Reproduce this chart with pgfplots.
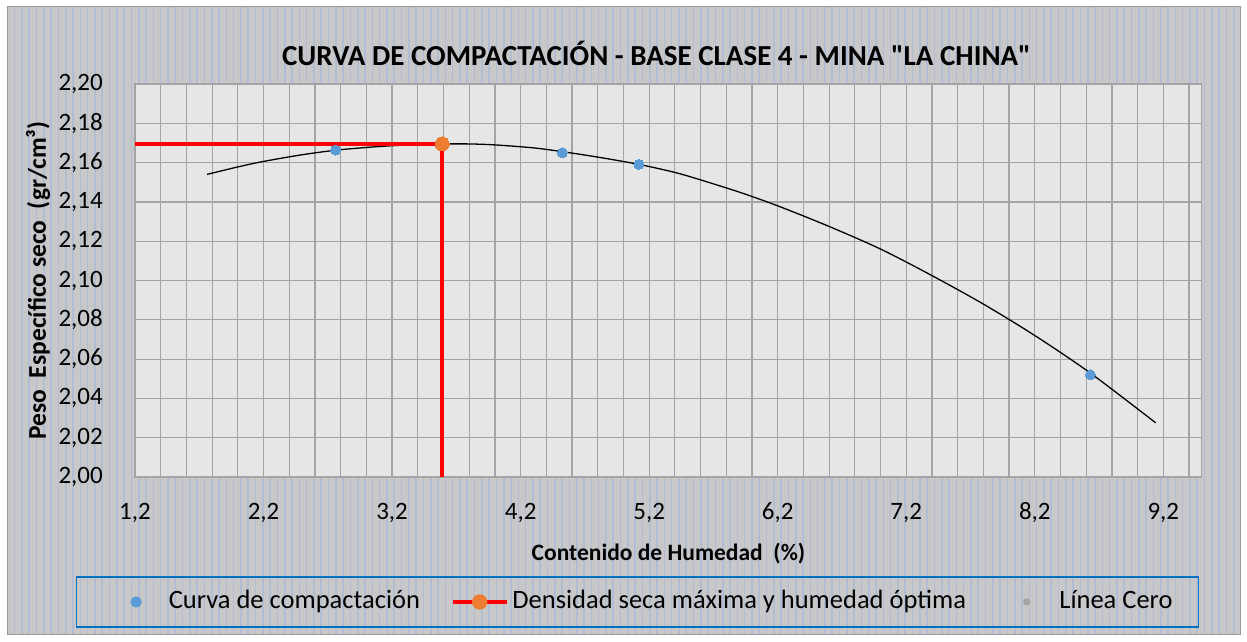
\documentclass[border=0pt]{standalone}
\usepackage{fontspec}
\setmainfont{Carlito}
\usepackage{pgfplots}
\pgfplotsset{compat=1.18}
\usetikzlibrary{patterns.meta}
\newcommand\sq{\XeTeXglyph\XeTeXcharglyph34\relax}
\definecolor{bg}{HTML}{C8C8C8}
\definecolor{stripe}{HTML}{B2BCD3}
\definecolor{plotbg}{HTML}{E6E6E6}
\definecolor{gridc}{HTML}{A4A4A4}
\definecolor{ptblue}{HTML}{5B9BD5}
\definecolor{ptorange}{HTML}{ED7D31}
\definecolor{legblue}{HTML}{0070C0}
\definecolor{zerogray}{HTML}{A5A5A5}
\begin{document}
\begin{tikzpicture}[x=1pt,y=1pt]
\fill[white] (0,0) rectangle (1247,641);
\fill[bg] (7,7) rectangle (1240,634);
\fill[pattern={Lines[angle=90,distance=7.3pt,line width=1.6pt]}, pattern color=stripe] (7,7) rectangle (1240,634);
\draw[gray!80, line width=1pt] (7,7) rectangle (1240,634);
\begin{axis}[
  at={(135pt,164pt)}, anchor=south west,
  width=1067pt, height=393pt, scale only axis,
  xmin=1.2, xmax=9.5, ymin=2.0, ymax=2.2,
  axis background/.style={fill=plotbg},
  axis line style={gridc, line width=1.2pt},
  xtick={1.2,1.4,1.6,1.8,2.0,2.2,2.4,2.6,2.8,3.0,3.2,3.4,3.6,3.8,4.0,4.2,4.4,4.6,4.8,5.0,5.2,5.4,5.6,5.8,6.0,6.2,6.4,6.6,6.8,7.0,7.2,7.4,7.6,7.8,8.0,8.2,8.4,8.6,8.8,9.0,9.2,9.4},
  xticklabels={{1,2},,,,,{2,2},,,,,{3,2},,,,,{4,2},,,,,{5,2},,,,,{6,2},,,,,{7,2},,,,,{8,2},,,,,{9,2},},
  ytick={2.00,2.02,2.04,2.06,2.08,2.10,2.12,2.14,2.16,2.18,2.20},
  xmajorgrids, ymajorgrids,
  major grid style={draw=gridc, line width=1.2pt},
  major tick length=0pt, minor tick length=0pt,
  tick style={draw=none},
  /pgf/number format/assume math mode=true,
  yticklabel={\pgfmathprintnumber[fixed,fixed zerofill,precision=2,use comma]{\tick}},
  xticklabel style={font=\fontsize{25}{30}\selectfont, anchor=base, inner sep=0pt, yshift=-42pt},
  yticklabel style={font=\fontsize{25}{30}\selectfont, anchor=east, inner sep=0pt, xshift=-32pt},
  title={CURVA DE COMPACTACIÓN - BASE CLASE 4 - MINA \sq LA CHINA\sq},
  title style={font=\bfseries\fontsize{29}{34}\selectfont, at={(axis description cs:0.4888,1.0636)}, anchor=center, inner sep=0pt},
  xlabel={Contenido de Humedad\ \ (\%)},
  xlabel style={font=\bfseries\fontsize{23.5}{28}\selectfont, at={(axis description cs:0.5,-0.1959)}, anchor=center, inner sep=0pt},
  ylabel={Peso\ \ Específico seco\ \ (gr/cm³)},
  ylabel style={font=\bfseries\fontsize{25.5}{30}\selectfont, at={(axis description cs:-0.0909,0.5)}, anchor=center, inner sep=0pt},
  legend columns=3,
  legend style={at={(axis description cs:0.471,-0.318)}, anchor=center,
    draw=legblue, line width=1.3pt, fill=none,
    inner xsep=0pt, inner ysep=12.5pt,
    font=\fontsize{26.5}{31}\selectfont,
    nodes={inner sep=0pt, text height=19pt, text depth=6pt},
    column sep=0pt},
  clip=false,
]
% data points
\addplot[forget plot, only marks, mark=*, mark size=5pt, mark options={draw=ptblue, fill=ptblue, line width=0pt}]
  coordinates {(2.76,2.1664) (4.525,2.1650) (5.12,2.1591) (8.632,2.0520)};
% polynomial trendline
\addplot[forget plot, black, line width=1.3pt, smooth]
  coordinates {(1.76,2.1540) (2.0,2.1578) (2.2,2.1606) (2.5,2.1640) (2.76,2.1663) (3.0,2.1677) (3.2,2.1686) (3.4,2.1692) (3.6,2.1695) (3.8,2.1695) (4.0,2.1690) (4.3,2.1675) (4.52,2.1656) (4.8,2.1628) (5.12,2.1591) (5.4,2.1550) (5.6,2.1512) (5.9,2.1450) (6.2,2.1380) (6.6,2.1275) (7.0,2.1160) (7.4,2.1025) (7.8,2.0880) (8.2,2.0720) (8.63,2.0530) (9.14,2.0276)};
% max density / optimum moisture
\addplot[forget plot, red, line width=3.6pt, mark=*, mark indices={2}, mark options={draw=ptorange, fill=ptorange, line width=0pt}, mark size=7pt]
  coordinates {(1.2,2.1695) (3.59,2.1695) (3.59,2.0)};
% legend
\addlegendimage{legend image code/.code={\path (-59pt,0) (32pt,0); \fill[ptblue] (0,0) circle (5pt);}}
\addlegendentry{Curva de compactación}
\addlegendimage{legend image code/.code={\path (-59pt,0) (32pt,0); \draw[red, line width=3.6pt] (-27pt,0) -- (27pt,0); \fill[ptorange] (0,0) circle (7pt);}}
\addlegendentry{Densidad seca máxima y humedad óptima}
\addlegendimage{legend image code/.code={\path (-60pt,0) (32pt,0); \fill[zerogray] (0,0) circle (3pt);}}
\addlegendentry{Línea Cero\rule{26pt}{0pt}}
\end{axis}
\end{tikzpicture}
\end{document}
